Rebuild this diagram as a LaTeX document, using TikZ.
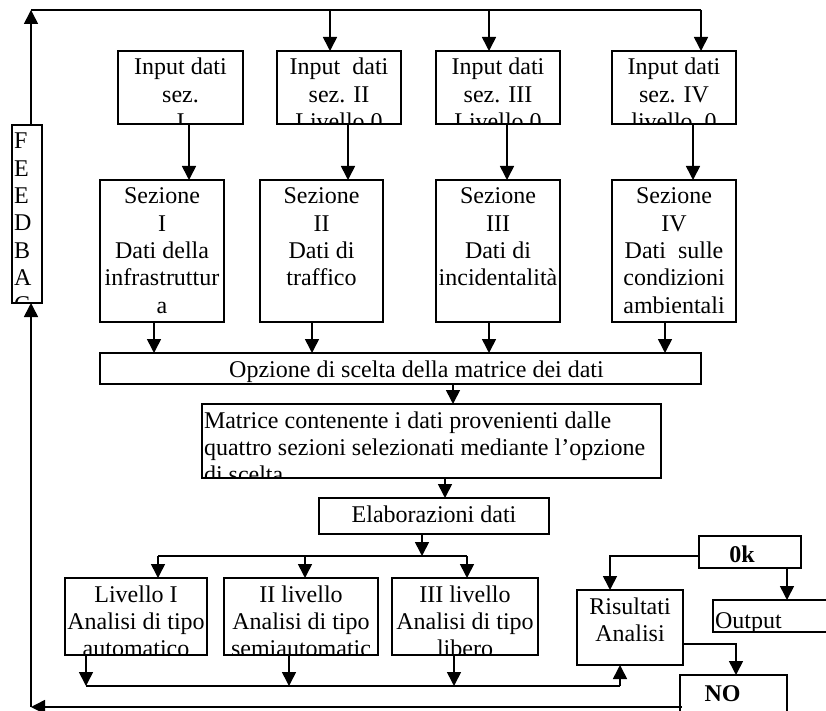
\documentclass[tikz,border=0pt]{standalone}
\usepackage{fontspec}
\setmainfont{Liberation Serif}
\usetikzlibrary{arrows.meta}
\newcommand\fsz{\fontsize{24}{27.3}\selectfont}
\tikzset{
  bx/.style={draw, line width=1.6pt, inner sep=0pt, outer sep=0pt},
  ctext/.style={path picture={\node[draw=none,fill=none,inner sep=0pt,minimum width=0pt,minimum height=0pt,anchor=base,font=\fsz] at ([yshift=-24pt]path picture bounding box.north) {\begin{tabular}[t]{@{}c@{}}#1\end{tabular}};}},
  ltext/.style={path picture={\node[draw=none,fill=none,inner sep=0pt,minimum width=0pt,minimum height=0pt,anchor=base west,font=\fsz] at ([xshift=2pt,yshift=-24pt]path picture bounding box.north west) {\begin{tabular}[t]{@{}l@{}}#1\end{tabular}};}},
  ln/.style={line width=1.6pt},
  arr/.style={line width=1.6pt, -{Triangle[width=14pt,length=14pt]}},
}
\begin{document}
\begin{tikzpicture}[x=1pt,y=-1pt]
\useasboundingbox (0,0) rectangle (826,711);
\fill[white] (0,0) rectangle (826,711);

% boxes
\node[bx, minimum width=30, minimum height=178, ltext={F\\E\\E\\D\\B\\A\\C\\K}] (fb) at (27,214) {};
\node[bx, minimum width=125, minimum height=73, ctext={Input dati\\sez.\\I}] (in1) at (180.5,87.5) {};
\node[bx, minimum width=124, minimum height=73, ctext={Input\ \ dati\\sez. II\\Livello 0}] (in2) at (339,87.5) {};
\node[bx, minimum width=124, minimum height=73, ctext={Input dati\\sez. III\\Livello 0}] (in3) at (498,87.5) {};
\node[bx, minimum width=124, minimum height=73, ctext={Input dati\\sez. IV\\livello\ \ 0}] (in4) at (674,87.5) {};

\node[bx, minimum width=124, minimum height=142, ctext={Sezione\\I\\Dati della\\infrastruttur\\a}] (s1) at (162,251) {};
\node[bx, minimum width=123, minimum height=142, ctext={Sezione\\II\\Dati di\\traffico}] (s2) at (321.5,251) {};
\node[bx, minimum width=124, minimum height=142, ctext={Sezione\\III\\Dati di\\incidentalità}] (s3) at (498,251) {};
\node[bx, minimum width=124, minimum height=142, ctext={Sezione\\IV\\Dati\ \ sulle\\condizioni\\ambientali}] (s4) at (674,251) {};

\node[bx, minimum width=601, minimum height=31, ctext={\hspace*{32pt}Opzione di scelta della matrice dei dati}] (opz) at (400.5,368.5) {};
\node[bx, minimum width=459, minimum height=74, ltext={Matrice contenente i dati provenienti dalle\\quattro sezioni selezionati mediante l’opzione\\di scelta}] (mat) at (431.5,441) {};
\node[bx, minimum width=230, minimum height=36, ctext={Elaborazioni dati}] (ela) at (434,516) {};

\node[bx, minimum width=142, minimum height=77, ctext={Livello I\\Analisi di tipo\\automatico}] (l1) at (136,616.5) {};
\node[bx, minimum width=154, minimum height=77, ctext={II livello\\Analisi di tipo\\semiautomatic}] (l2) at (301,616.5) {};
\node[bx, minimum width=146, minimum height=77, ctext={III livello\\Analisi di tipo\\libero}] (l3) at (465,616.5) {};

\node[bx, minimum width=106, minimum height=75, ctext={Risultati\\Analisi}] (ris) at (630,627.5) {};
\node[bx, minimum width=102, minimum height=32, ctext={\raisebox{-2pt}{\textbf{0k}}\hspace*{16pt}}] (ok) at (750,552) {};
\node[bx, minimum width=127, minimum height=32, ltext={\raisebox{-4pt}{Output}}] (out) at (776.5,616) {};
\node[bx, minimum width=107, minimum height=70, ctext={\raisebox{-2pt}{\textbf{NO}}\hspace*{22pt}}] (no) at (733.5,710) {};

% top feedback distribution
\coordinate (topL) at (31,10);
\coordinate (topR) at (701,10);
\coordinate (t2) at (330,10);
\coordinate (t3) at (489,10);
\draw[arr] ([xshift=4]fb.north) -- (topL);
\draw[ln] (topL) -- (topR);
\draw[arr] (t2) -- ([xshift=-9]in2.north);
\draw[arr] (t3) -- ([xshift=-9]in3.north);
\draw[arr] (topR) -- ([xshift=27]in4.north);

% inputs to sections
\draw[arr] ([xshift=8.5]in1.south) -- ([xshift=27]s1.north);
\draw[arr] ([xshift=9]in2.south) -- ([xshift=26.5]s2.north);
\draw[arr] ([xshift=9]in3.south) -- ([xshift=9]s3.north);
\draw[arr] ([xshift=19]in4.south) -- ([xshift=19]s4.north);

% sections to option
\draw[arr] ([xshift=-8]s1.south) -- ([xshift=-246.5]opz.north);
\draw[arr] ([xshift=-9.5]s2.south) -- ([xshift=-88.5]opz.north);
\draw[arr] ([xshift=-9]s3.south) -- ([xshift=88.5]opz.north);
\draw[arr] ([xshift=-9]s4.south) -- ([xshift=264.5]opz.north);

\draw[arr] ([xshift=52.5]opz.south) -- ([xshift=21.5]mat.north);
\draw[arr] ([xshift=13.5]mat.south) -- ([xshift=11]ela.north);

% split to levels
\coordinate (sp) at (422,556);
\coordinate (spL) at (158,556);
\coordinate (sp2) at (305,556);
\coordinate (spR) at (467,556);
\draw[arr] ([xshift=-12]ela.south) -- (sp);
\draw[ln] (spL) -- (spR);
\draw[arr] (spL) -- ([xshift=22]l1.north);
\draw[arr] (sp2) -- ([xshift=4]l2.north);
\draw[arr] (spR) -- ([xshift=2]l3.north);

% levels to results
\coordinate (j1) at (86,686);
\coordinate (j2) at (289,686);
\coordinate (j3) at (454,686);
\coordinate (jR) at (620,686);
\draw[arr] ([xshift=-50]l1.south) -- (j1);
\draw[arr] ([xshift=-12]l2.south) -- (j2);
\draw[arr] ([xshift=-11]l3.south) -- (j3);
\draw[ln] (j1) -- (jR);
\draw[arr] (jR) -- ([xshift=-10]ris.south);

% ok / output / no
\draw[arr] ([yshift=-4]ok.west) -| ([xshift=-20]ris.north);
\draw[arr] ([xshift=37]ok.south) -- ([xshift=10.5]out.north);
\draw[arr] ([yshift=-16.5]ris.east) -| ([xshift=2.5]no.north);

% bottom feedback
\coordinate (fbs) at (682,707);
\coordinate (fbc) at (31,707);
\draw[arr] (fbs) -- (fbc);
\draw[arr] (fbc) -- ([xshift=4]fb.south);
\end{tikzpicture}
\end{document}
